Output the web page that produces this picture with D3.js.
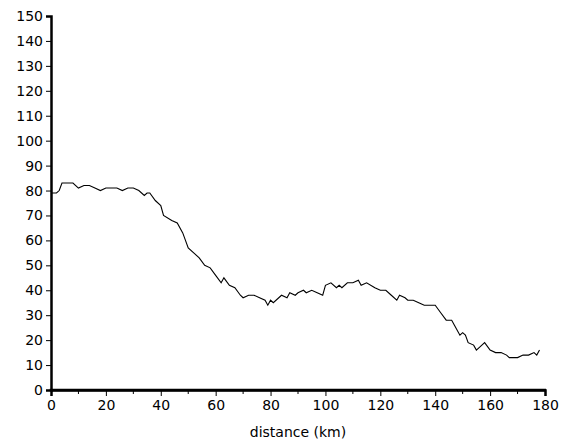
<!DOCTYPE html><html><head><meta charset="utf-8"><script src="https://cdn.jsdelivr.net/npm/d3@7"></script>
<style>body{margin:0;background:#fff}text{font-family:"DejaVu Sans",sans-serif;font-size:14px;fill:#000}</style></head><body>
<svg id="c" width="561" height="443"></svg>
<script>
const distance=[0,2,3,4,8,10,12,14,16,18,20,24,26,28,30,32,34,35,36,38,40,41,44,46,48,50,52,54,56,58,60,62,63,65,67,69,70,72,74,76,78,79,80,81,84,86,87,89,90,92,93,95,97,99,100,102,104,105,106,108,110,112,113,115,118,120,122,124,126,127,129,130,132,134,136,140,142,144,146,147,149,150,151,152,154,155,157,158,160,162,164,166,167,170,172,174,176,177,178];
const elevation=[79,79,80,83,83,81,82,82,81,80,81,81,80,81,81,80,78,79,79,76,74,70,68,67,63,57,55,53,50,49,46,43,45,42,41,38,37,38,38,37,36,34,36,35,38,37,39,38,39,40,39,40,39,38,42,43,41,42,41,43,43,44,42,43,41,40,40,38,36,38,37,36,36,35,34,34,31,28,28,26,22,23,22,19,18,16,18,19,16,15,15,14,13,13,14,14,15,14,16];
const xTicks=[0,20,40,60,80,100,120,140,160,180];
const yTicks=d3.range(0,151,10);
const svg=d3.select("#c");
const x=d3.scaleLinear().domain([0,180]).range([51,545]);
const y=d3.scaleLinear().domain([0,150]).range([390,16]);
const gx=svg.append("g").attr("transform","translate(0,390)").call(d3.axisBottom(x).tickValues(xTicks).tickSize(6).tickPadding(4));
gx.selectAll(".minor").data(d3.range(10,180,20)).join("line").attr("x1",d=>x(d)).attr("x2",d=>x(d)).attr("y1",0).attr("y2",4).attr("stroke","#000");
const gy=svg.append("g").attr("transform","translate(51,0)").call(d3.axisLeft(y).tickValues(yTicks).tickSize(5).tickPadding(3));
[gx,gy].forEach(g=>{g.select(".domain").attr("stroke-width",2.5);g.selectAll("text").style("font-size","14px").style("font-family","DejaVu Sans");});
svg.append("line").attr("x1",49.75).attr("x2",546).attr("y1",390).attr("y2",390).attr("stroke","#000").attr("stroke-width",2.5);
svg.append("path").datum(distance.map((d,i)=>[d,elevation[i]])).attr("fill","none").attr("stroke","#000").attr("stroke-width",1.1)
 .attr("d",d3.line().x(d=>x(d[0])).y(d=>y(d[1])));
svg.append("text").attr("x",298).attr("y",437).attr("text-anchor","middle").text("distance (km)");
</script></body></html>
